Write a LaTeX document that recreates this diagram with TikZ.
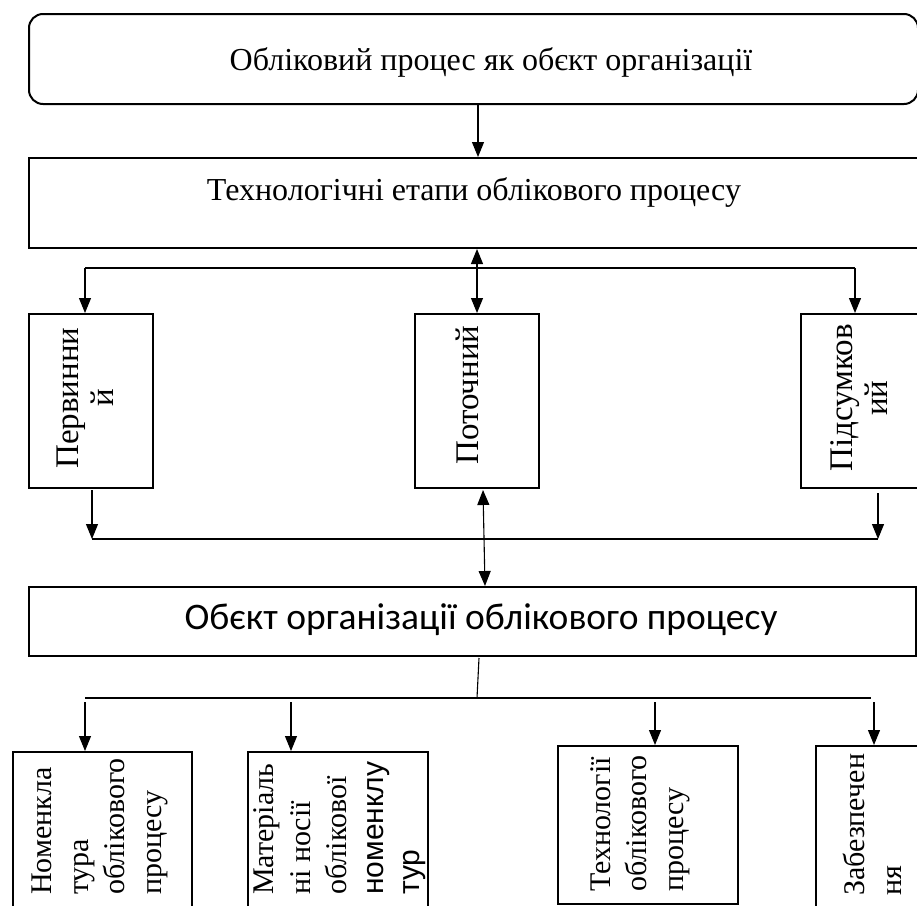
\documentclass[tikz,border=0pt]{standalone}
\usepackage{fontspec}
\setmainfont{Liberation Serif}
\newfontfamily\calfont{Carlito}
\newfontfamily\arfont{Liberation Sans}
\usetikzlibrary{arrows.meta}
\begin{document}
\begin{tikzpicture}[x=1pt,y=-1pt,
  box/.style={draw, line width=2pt, inner sep=0pt, anchor=north west},
  conn/.style={line width=1.1pt},
  arr/.style={conn, -{Triangle[length=15pt,width=12pt]}},
  darr/.style={conn, {Triangle[length=15pt,width=12pt]}-{Triangle[length=15pt,width=12pt]}},
  htext/.style={inner sep=0pt, font=\fontsize{32}{38}\selectfont},
  vtext/.style={rotate=90, inner sep=0pt, font=\fontsize{30}{36.5}\selectfont},
  vbig/.style={rotate=90, inner sep=0pt, align=center, font=\fontsize{33}{35}\selectfont}]
\useasboundingbox (0,0) rectangle (917,905);
\clip (0,0) rectangle (917,905);
% top boxes
\node[box, rounded corners=14pt, minimum width=889pt, minimum height=90pt] (top) at (28,13) {};
\node[htext] (toptext) at (491,62) {Обліковий процес як обєкт організації};
\node[box, minimum width=920pt, minimum height=90pt] (etapy) at (28,157) {};
\node[htext] (etapytext) at (474,192) {Технологічні етапи облікового процесу};
\coordinate (a1) at (478,0);
\draw[arr] (top.south -| a1) -- (etapy.north -| a1);
% middle boxes
\node[box, minimum width=124pt, minimum height=174pt] (p1) at (28,313) {};
\node[box, minimum width=124pt, minimum height=174pt] (p2) at (414,313) {};
\node[box, minimum width=140pt, minimum height=174pt] (p3) at (800,313) {};
\node[vbig] (pt1) at (85,398) {Первинни\\й};
\node[vbig] (pt2) at (467,395) {Поточний};
\node[vbig] (pt3) at (859,398) {Підсумков\\ий};
\coordinate (h1) at (85,268);
\coordinate (h2) at (855,268);
\coordinate (hm) at (477,268);
\draw[conn] (h1) -- (h2);
\draw[arr] (h1) -- (p1.north -| h1);
\draw[arr] (h2) -- (p3.north -| h2);
\draw[darr] (etapy.south -| hm) -- (p2.north -| hm);
% collector
\coordinate (l1s) at (92,490);
\coordinate (l1) at (92,539);
\coordinate (l2s) at (878,493);
\coordinate (l2) at (878,539);
\draw[conn] (l1) -- (l2);
\draw[arr] (l1s) -- (l1);
\draw[arr] (l2s) -- (l2);
% object box
\node[box, minimum width=887pt, minimum height=69pt] (obj) at (28,586) {};
\node[inner sep=0pt, font=\calfont\fontsize{37.5}{40}\selectfont] (objtext) at (481,620) {Обєкт організації облікового процесу};
\coordinate (d1) at (483,490);
\coordinate (d2) at (485,586);
\draw[darr] (d1) -- (d2);
% distributor
\coordinate (o1) at (479,658);
\coordinate (o2) at (477,698);
\coordinate (g1) at (85,698);
\coordinate (g2) at (871,698);
\draw[conn] (o1) -- (o2);
\draw[conn] (g1) -- (g2);
% bottom boxes
\node[box, minimum width=179pt, minimum height=200pt] (b1) at (12,751) {};
\node[box, minimum width=180pt, minimum height=200pt] (b2) at (247,751) {};
\node[box, minimum width=180pt, minimum height=158pt] (b3) at (557,745) {};
\node[box, minimum width=150pt, minimum height=200pt] (b4) at (815,745) {};
\coordinate (s1) at (85,702);
\coordinate (s2) at (291,702);
\coordinate (s3) at (655,702);
\coordinate (s4) at (874,702);
\draw[arr] (s1) -- (b1.north -| s1);
\draw[arr] (s2) -- (b2.north -| s2);
\draw[arr] (s3) -- (b3.north -| s3);
\draw[arr] (s4) -- (b4.north -| s4);
\node[vtext, anchor=west, align=left] (t1) at (100,895) {Номенкла\\тура\\облікового\\процесу};
\node[vtext, anchor=west, align=left] (t2) at (340,895) {Матеріаль\\ні носії\\облікової\\{\arfont номенклу}\\{\arfont тур}};
\node[vtext, anchor=west, align=left] (t3) at (640,892) {Технології\\облікового\\процесу};
\node[vtext, anchor=west, align=left] (t4) at (872,896) {Забезпечен\\ня};
\end{tikzpicture}
\end{document}
